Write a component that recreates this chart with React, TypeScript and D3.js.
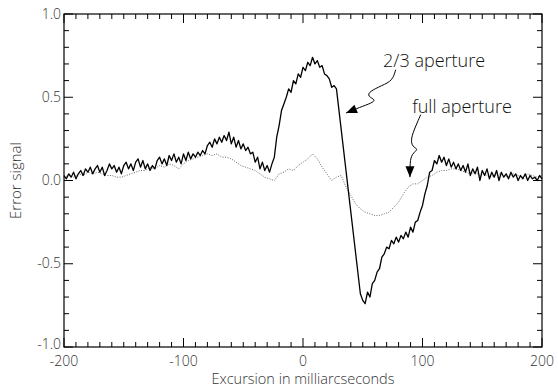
import React from "react";
import * as d3 from "d3";

const solidValues: (number | null)[] = [
  0.03, 0.01, 0.04, 0.02, 0.05, 0.01, 0.04, 0.06, 0.03, 0.07,
  0.05, 0.08, 0.04, 0.07, 0.09, 0.05, 0.08, 0.03, 0.06, 0.10,
  0.07, 0.09, 0.05, 0.08, 0.04, 0.09, 0.11, 0.07, 0.10, 0.06,
  0.11, 0.13, 0.08, 0.12, 0.07, 0.10, 0.06, 0.09, 0.07, 0.12,
  0.14, 0.10, 0.13, 0.09, 0.15, 0.12, 0.16, 0.11, 0.14, 0.10,
  0.16, 0.12, 0.17, 0.13, 0.16, 0.14, 0.17, 0.15, 0.18, 0.16,
  0.21, 0.23, 0.20, 0.25, 0.22, 0.26, 0.23, 0.27, 0.24, 0.29,
  0.22, 0.26, 0.20, 0.24, 0.19, 0.22, 0.18, 0.20, 0.16, 0.17,
  0.11, 0.14, 0.07, 0.11, 0.06, 0.09, 0.05, 0.10, 0.14, 0.26,
  0.33, 0.42, 0.46, 0.50, 0.55, 0.53, 0.60, 0.58, 0.64, 0.62,
  0.68, 0.66, 0.71, 0.69, 0.74, 0.70, 0.72, 0.68, 0.69, 0.64,
  0.63, 0.61, 0.56, 0.57, 0.55,
  null, null, null, null, null, null, null, null, null,
  -0.68, -0.72, -0.74, -0.67, -0.70, -0.62, -0.60, -0.55, -0.53, -0.46,
  -0.44, -0.40, -0.41, -0.36, -0.38, -0.34, -0.37, -0.33, -0.35, -0.31,
  -0.34, -0.28, -0.31, -0.25, -0.24, -0.19, -0.15, -0.08, -0.03, 0.05,
  0.06, 0.12, 0.10, 0.15, 0.11, 0.14, 0.09, 0.13, 0.08, 0.11,
  0.07, 0.10, 0.06, 0.09, 0.05, 0.10, 0.03, 0.07, 0.04, 0.08,
  0.00, 0.06, 0.03, 0.07, 0.01, 0.05, 0.02, 0.06, 0.00, 0.05,
  0.02, 0.04, 0.01, 0.05, 0.02, 0.04, 0.00, 0.03, 0.01, 0.04,
  0.00, 0.03, 0.01, 0.02, 0.00, 0.03, 0.01,
];

const dottedValues: number[] = [
  0.02, 0.03, 0.02, 0.04, 0.03, 0.05, 0.04, 0.05, 0.04, 0.03,
  0.03, 0.02, 0.02, 0.03, 0.04, 0.05, 0.06, 0.06, 0.08, 0.07,
  0.09, 0.08, 0.10, 0.09, 0.07, 0.10, 0.12, 0.13, 0.14, 0.15,
  0.16, 0.15, 0.16, 0.14, 0.14, 0.13, 0.11, 0.09, 0.08, 0.07,
  0.06, 0.04, 0.02, 0.01, 0.00, 0.04, 0.05, 0.07, 0.06, 0.09,
  0.11, 0.13, 0.16, 0.13, 0.08, 0.04, 0.00, 0.02, 0.03, -0.04,
  -0.09, -0.14, -0.17, -0.19, -0.20, -0.21, -0.21, -0.20, -0.19, -0.16,
  -0.13, -0.08, -0.04, -0.02, -0.02, 0.00, 0.02, 0.03, 0.05, 0.06,
  0.06, 0.07, 0.07, 0.06, 0.05, 0.04, 0.05, 0.03, 0.04, 0.02,
  0.03, 0.04, 0.03, 0.02, 0.04, 0.03, 0.02, 0.04, 0.03, 0.02,
  0.03,
];

const xMajorTicks = [-200, -100, 0, 100, 200];
const yMajorTicks = [-1.0, -0.5, 0.0, 0.5, 1.0];
const yTickLabels = ["-1.0", "-0.5", "0.0", "0.5", "1.0"];

// annotation leader lines (data coordinates)
const arrow1Points: [number, number][] = [
  [77.5, 0.665], [75.0, 0.60], [66.0, 0.57], [55.5, 0.535], [54.0, 0.505],
  [61.0, 0.485], [57.5, 0.465], [47.5, 0.44], [36.0, 0.405],
];
const arrow2Points: [number, number][] = [
  [98.5, 0.395], [94.5, 0.33], [90.0, 0.25], [91.5, 0.20], [97.0, 0.19],
  [91.0, 0.16], [89.5, 0.11], [89.5, 0.02],
];
const labels = [
  { text: "2/3 aperture", x: 67, y: 0.68 },
  { text: "full aperture", x: 91.5, y: 0.405 },
];

const W = 558;
const H = 387;
const m = { left: 64, right: 16, top: 14, bottom: 40 };

export default function App() {
  const x = d3.scaleLinear().domain([-200, 200]).range([m.left, W - m.right]);
  const y = d3.scaleLinear().domain([-1, 1]).range([H - m.bottom, m.top]);

  const solidData = solidValues
    .map((v, i) => ({ x: -200 + i * 2, y: v }))
    .filter((d) => d.y !== null) as { x: number; y: number }[];
  const dottedData = dottedValues.map((v, i) => ({ x: -200 + i * 4, y: v }));

  const line = d3
    .line<{ x: number; y: number }>()
    .x((d) => x(d.x))
    .y((d) => y(d.y));

  const leader = d3
    .line<[number, number]>()
    .x((d) => x(d[0]))
    .y((d) => y(d[1]))
    .curve(d3.curveBasis);

  const xMinor = d3.range(-200, 201, 10);
  const yMinor = d3.range(-10, 11, 1).map((v) => v / 10);
  const x0 = m.left;
  const x1 = W - m.right;
  const y0 = H - m.bottom;
  const y1 = m.top;
  const font = "'Open Sans', 'DejaVu Sans', sans-serif";

  const arrowHead = (pts: [number, number][]) => {
    const a = pts[pts.length - 2];
    const b = pts[pts.length - 1];
    const ax = x(a[0]), ay = y(a[1]), bx = x(b[0]), by = y(b[1]);
    const ang = Math.atan2(by - ay, bx - ax);
    const L = 11, Wd = 4.5;
    const px = bx - L * Math.cos(ang), py = by - L * Math.sin(ang);
    const nx = -Math.sin(ang), ny = Math.cos(ang);
    return `M${bx},${by}L${px + nx * Wd},${py + ny * Wd}L${px - nx * Wd},${py - ny * Wd}Z`;
  };

  return (
    <svg width={W} height={H} style={{ position: "absolute", left: 0, top: 0, background: "#fff" }}>
      <rect width={W} height={H} fill="#fff" />
      {/* data */}
      <path d={line(dottedData) || ""} fill="none" stroke="#666" strokeWidth={1} strokeDasharray="1,1.5" />
      <path d={line(solidData) || ""} fill="none" stroke="#000" strokeWidth={1.3} strokeLinejoin="round" />

      {/* frame */}
      <rect x={x0} y={y1} width={x1 - x0} height={y0 - y1} fill="none" stroke="#000" strokeWidth={1.2} />
      {xMinor.map((v) => {
        const major = v % 100 === 0;
        const len = major ? 9 : 5;
        return (
          <g key={"xt" + v}>
            <line x1={x(v)} x2={x(v)} y1={y0} y2={y0 - len} stroke="#000" strokeWidth={1} />
            <line x1={x(v)} x2={x(v)} y1={y1} y2={y1 + len} stroke="#000" strokeWidth={1} />
          </g>
        );
      })}
      {yMinor.map((v) => {
        const major = Math.abs((v * 10) % 5) < 1e-6;
        const len = major ? 9 : 5;
        return (
          <g key={"yt" + v}>
            <line x1={x0} x2={x0 + len} y1={y(v)} y2={y(v)} stroke="#000" strokeWidth={1} />
            <line x1={x1} x2={x1 - len} y1={y(v)} y2={y(v)} stroke="#000" strokeWidth={1} />
          </g>
        );
      })}
      {xMajorTicks.map((v) => (
        <text key={"xl" + v} x={x(v)} y={y0 + 18.5} textAnchor="middle" fontFamily={font} fontWeight={300} fontSize={14} fill="#333">
          {String(v)}
        </text>
      ))}
      {yMajorTicks.map((v, i) => (
        <text key={"yl" + v} x={x0 - 3} y={y(v) + (i === 0 ? 2 : 4.5)} textAnchor="end" fontFamily={font} fontWeight={300} fontSize={14} fill="#333">
          {yTickLabels[i]}
        </text>
      ))}
      <text x={(x0 + x1) / 2} y={H - 3.5} textAnchor="middle" fontFamily={font} fontWeight={300} fontSize={14.5} fill="#333">
        Excursion in milliarcseconds
      </text>
      <text
        transform={`translate(${21},${(y0 + y1) / 2}) rotate(-90)`}
        textAnchor="middle"
        fontFamily={font}
        fontWeight={300}
        fontSize={15}
        fill="#333"
      >
        Error signal
      </text>

      {/* annotations */}
      {labels.map((l) => (
        <text key={l.text} x={x(l.x)} y={y(l.y)} fontFamily={font} fontWeight={300} fontSize={18} fill="#111">
          {l.text}
        </text>
      ))}
      {[arrow1Points, arrow2Points].map((pts, i) => (
        <g key={"ar" + i}>
          <path d={leader(pts) || ""} fill="none" stroke="#000" strokeWidth={1} />
          <path d={arrowHead(pts)} fill="#000" />
        </g>
      ))}
    </svg>
  );
}
